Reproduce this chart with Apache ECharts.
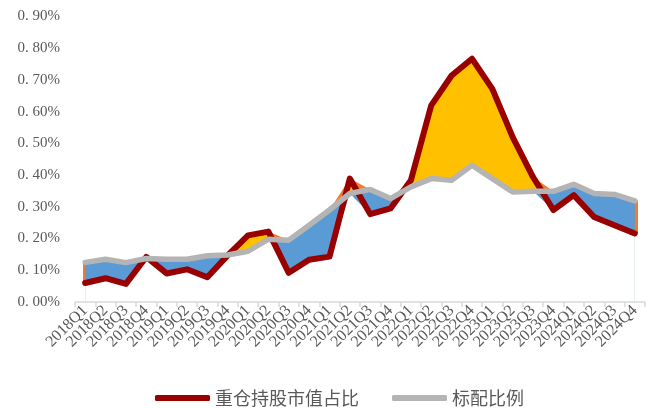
<!DOCTYPE html>
<html>
<head>
<meta charset="utf-8">
<script src="https://cdn.jsdelivr.net/npm/echarts@6/dist/echarts.min.js"></script>
<style>
html,body{margin:0;padding:0;background:#fff;}
#c{width:654px;height:408px;}
</style>
</head>
<body>
<div id="c"></div>
<script>
var categories = ['2018Q1','2018Q2','2018Q3','2018Q4','2019Q1','2019Q2','2019Q3','2019Q4',
  '2020Q1','2020Q2','2020Q3','2020Q4','2021Q1','2021Q2','2021Q3','2021Q4',
  '2022Q1','2022Q2','2022Q3','2022Q4','2023Q1','2023Q2','2023Q3','2023Q4',
  '2024Q1','2024Q2','2024Q3','2024Q4'];
// values in percent
var heavyShare = [0.060,0.075,0.057,0.142,0.090,0.103,0.078,0.147,0.210,0.222,0.092,0.133,0.143,0.389,0.277,0.295,0.384,0.620,0.714,0.767,0.672,0.520,0.394,0.290,0.337,0.268,0.242,0.216];
var standardShare = [0.125,0.135,0.124,0.137,0.135,0.135,0.146,0.148,0.160,0.198,0.195,0.242,0.290,0.342,0.355,0.326,0.363,0.389,0.384,0.431,0.389,0.347,0.349,0.349,0.371,0.342,0.339,0.319];
var yTicks = [0,0.1,0.2,0.3,0.4,0.5,0.6,0.7,0.8,0.9];
var seriesNames = ['重仓持股市值占比','标配比例'];

var maxArr = heavyShare.map(function(v,i){return Math.max(v, standardShare[i]);});
var minArr = heavyShare.map(function(v,i){return Math.min(v, standardShare[i]);});
var last = categories.length - 1;

var chart = echarts.init(document.getElementById('c'), null, {renderer:'canvas'});
chart.setOption({
  animation:false,
  backgroundColor:'#fff',
  grid:{left:75,right:9,top:16.5,bottom:106,containLabel:false},
  legend:{
    left:155, top:385, padding:[0,0,0,0],
    itemWidth:55, itemHeight:6, itemGap:33,
    data:[{name:seriesNames[0],icon:'roundRect'},{name:seriesNames[1],icon:'roundRect'}],
    textStyle:{fontFamily:'Noto Sans CJK SC',fontSize:18,lineHeight:26,color:'#595959'}
  },
  xAxis:{
    type:'category', data:categories, boundaryGap:true, z:10,
    axisLine:{show:true,lineStyle:{color:'#D9D9D9',width:1.5}},
    axisTick:{show:true,length:5,interval:0,lineStyle:{color:'#D9D9D9',width:1.5}},
    axisLabel:{interval:0,rotate:45,margin:6,fontFamily:'Liberation Serif',fontSize:16,color:'#595959'},
    splitLine:{show:false}
  },
  yAxis:{
    type:'value', min:yTicks[0], max:yTicks[yTicks.length-1], interval:0.1,
    axisLine:{show:false}, axisTick:{show:false}, splitLine:{show:false},
    axisLabel:{margin:15,fontFamily:'Liberation Serif',fontSize:15,color:'#595959',
      formatter:function(v){var s=v.toFixed(2);return s.replace('.', '. ')+'%';}}
  },
  series:[
    {name:'maxArea',type:'line',data:maxArr,symbol:'none',z:1,silent:true,
      lineStyle:{width:0,color:'#ED7D31'},areaStyle:{color:'#ED7D31',opacity:1},
      markLine:{silent:true,symbol:['none','none'],z:1.5,label:{show:false},
        lineStyle:{color:'#ED7D31',width:5,type:'solid',cap:'butt'},
        data:[[{coord:[categories[0],minArr[0]]},{coord:[categories[0],maxArr[0]]}],
              [{coord:[categories[last],minArr[last]]},{coord:[categories[last],maxArr[last]]}]]}},
    {name:'heavyArea',type:'line',data:heavyShare,symbol:'none',z:2,silent:true,
      lineStyle:{width:0,color:'#FFC000'},areaStyle:{color:'#FFC000',opacity:1}},
    {name:'stdArea',type:'line',data:standardShare,symbol:'none',z:3,silent:true,
      lineStyle:{width:0,color:'#5B9BD5'},areaStyle:{color:'#5B9BD5',opacity:1}},
    {name:'minArea',type:'line',data:minArr,symbol:'none',z:4,silent:true,
      lineStyle:{width:0,color:'#ffffff'},areaStyle:{color:'#ffffff',opacity:1}},
    {name:seriesNames[0],type:'line',data:heavyShare,symbol:'none',z:6,
      itemStyle:{color:'#990000'},
      lineStyle:{color:'#990000',width:6,cap:'round',join:'round'}},
    {name:seriesNames[1],type:'line',data:standardShare,symbol:'none',z:7,
      itemStyle:{color:'#B4B4B4'},
      lineStyle:{color:'#B4B4B4',width:5.5,cap:'round',join:'round'}}
  ]
});
</script>
</body>
</html>
